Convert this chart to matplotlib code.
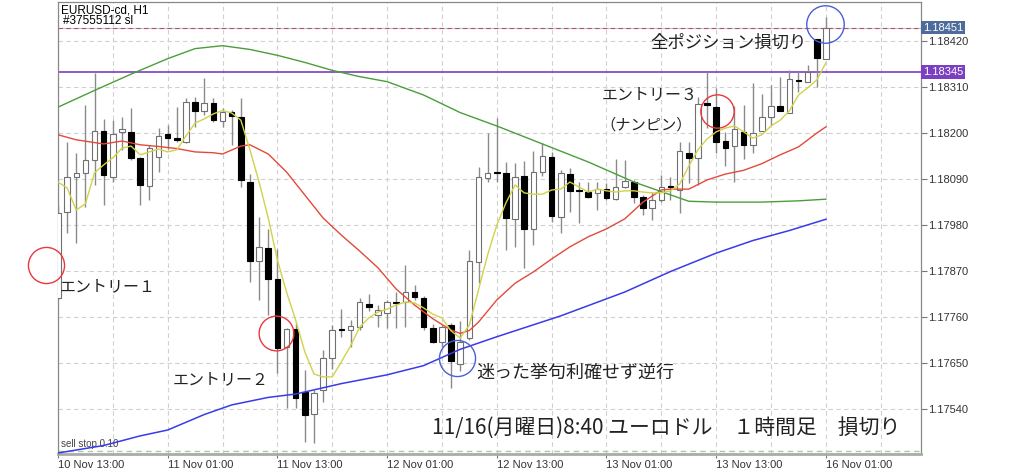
import matplotlib
matplotlib.use("Agg")
import matplotlib.pyplot as plt
import numpy as np

plt.rcParams['font.family'] = ['Liberation Sans', 'DejaVu Sans']

## EURUSD H1 candles, 10 Nov 13:00 .. 16 Nov 01:00
opens = [1.17805, 1.18011, 1.18095, 1.18103, 1.18135, 1.18204, 1.18095, 1.18201, 1.18202, 1.18139,
         1.18073, 1.18143, 1.18197, 1.18188, 1.18178, 1.18274, 1.18253, 1.18272, 1.18229, 1.18249,
         1.18237, 1.18083, 1.17892, 1.17924, 1.17850, 1.17688, 1.17730, 1.17581, 1.17527, 1.17585,
         1.17661, 1.17730, 1.17728, 1.17735, 1.17790, 1.17764, 1.17770, 1.17794, 1.17794, 1.17818,
         1.17804, 1.17734, 1.17700, 1.17740, 1.17647, 1.17708, 1.17891, 1.18091, 1.18104, 1.18103,
         1.17994, 1.18097, 1.17969, 1.18107, 1.18141, 1.17999, 1.18101, 1.18061, 1.18059, 1.18055,
         1.18065, 1.18041, 1.18071, 1.18083, 1.18047, 1.18019, 1.18039, 1.18071, 1.18063, 1.18152,
         1.18139, 1.18269, 1.18262, 1.18181, 1.18167, 1.18202, 1.18171, 1.18205, 1.18238, 1.18264,
         1.18248, 1.18324, 1.18322, 1.18423, 1.18376]
highs = [1.18027, 1.18178, 1.18151, 1.18266, 1.18342, 1.18232, 1.18230, 1.18238, 1.18258, 1.18142,
         1.18171, 1.18211, 1.18218, 1.18262, 1.18282, 1.18286, 1.18330, 1.18282, 1.18258, 1.18254,
         1.18282, 1.18101, 1.17999, 1.17969, 1.17921, 1.17733, 1.17744, 1.17633, 1.17585, 1.17680,
         1.17740, 1.17778, 1.17752, 1.17804, 1.17814, 1.17788, 1.17800, 1.17819, 1.17884, 1.17836,
         1.17810, 1.17743, 1.17740, 1.17744, 1.17750, 1.17920, 1.18119, 1.18200, 1.18234, 1.18131,
         1.18128, 1.18133, 1.18157, 1.18176, 1.18154, 1.18111, 1.18115, 1.18083, 1.18082, 1.18083,
         1.18079, 1.18136, 1.18135, 1.18087, 1.18051, 1.18057, 1.18099, 1.18095, 1.18178, 1.18178,
         1.18285, 1.18346, 1.18306, 1.18202, 1.18264, 1.18266, 1.18318, 1.18293, 1.18314, 1.18332,
         1.18350, 1.18348, 1.18362, 1.18423, 1.18477]
lows = [1.17800, 1.17960, 1.17936, 1.18023, 1.18075, 1.18027, 1.18083, 1.18159, 1.18135, 1.18027,
        1.18039, 1.18107, 1.18160, 1.18178, 1.18175, 1.18214, 1.18242, 1.18226, 1.18214, 1.18171,
        1.18071, 1.17844, 1.17800, 1.17764, 1.17625, 1.17541, 1.17541, 1.17461, 1.17457, 1.17557,
        1.17635, 1.17711, 1.17688, 1.17728, 1.17774, 1.17736, 1.17732, 1.17733, 1.17735, 1.17800,
        1.17728, 1.17697, 1.17688, 1.17589, 1.17629, 1.17704, 1.17841, 1.18083, 1.18083, 1.17920,
        1.17927, 1.17876, 1.17932, 1.18097, 1.17987, 1.17960, 1.18011, 1.17983, 1.18044, 1.18014,
        1.18039, 1.18039, 1.18067, 1.18031, 1.18003, 1.17991, 1.18034, 1.18039, 1.18007, 1.18079,
        1.18075, 1.18211, 1.18151, 1.18120, 1.18083, 1.18136, 1.18151, 1.18204, 1.18218, 1.18252,
        1.18247, 1.18298, 1.18321, 1.18309, 1.18376]
closes = [1.18008, 1.18095, 1.18104, 1.18135, 1.18204, 1.18099, 1.18197, 1.18208, 1.18139, 1.18075,
          1.18163, 1.18192, 1.18187, 1.18183, 1.18273, 1.18252, 1.18270, 1.18230, 1.18250, 1.18241,
          1.18087, 1.17892, 1.17927, 1.17850, 1.17684, 1.17730, 1.17565, 1.17525, 1.17577, 1.17661,
          1.17728, 1.17727, 1.17738, 1.17796, 1.17783, 1.17776, 1.17794, 1.17792, 1.17818, 1.17807,
          1.17735, 1.17700, 1.17736, 1.17653, 1.17700, 1.17892, 1.18093, 1.18104, 1.18103, 1.17995,
          1.18093, 1.17969, 1.18107, 1.18144, 1.18001, 1.18103, 1.18061, 1.18060, 1.18046, 1.18066,
          1.18043, 1.18069, 1.18085, 1.18047, 1.18019, 1.18039, 1.18069, 1.18069, 1.18155, 1.18139,
          1.18269, 1.18267, 1.18178, 1.18163, 1.18208, 1.18171, 1.18200, 1.18237, 1.18264, 1.18253,
          1.18328, 1.18323, 1.18346, 1.18378, 1.18451]

## moving averages (bar index, price)
ma_yellow = [1.18082, 1.18068, 1.18015, 1.18030, 1.18104, 1.18123, 1.18140, 1.18163, 1.18168, 1.18147,
             1.18154, 1.18161, 1.18154, 1.18159, 1.18192, 1.18223, 1.18233, 1.18245, 1.18253, 1.18247,
             1.18230, 1.18159, 1.18082, 1.17996, 1.17896, 1.17819, 1.17752, 1.17676, 1.17623, 1.17616,
             1.17616, 1.17652, 1.17690, 1.17735, 1.17757, 1.17771, 1.17778, 1.17788, 1.17795, 1.17793,
             1.17781, 1.17766, 1.17757, 1.17726, 1.17709, 1.17740, 1.17824, 1.17908, 1.17979, 1.18032,
             1.18075, 1.18056, 1.18053, 1.18053, 1.18063, 1.18065, 1.18082, 1.18070, 1.18058, 1.18065,
             1.18061, 1.18058, 1.18061, 1.18061, 1.18058, 1.18056, 1.18056, 1.18061, 1.18077, 1.18120,
             1.18159, 1.18185, 1.18202, 1.18211, 1.18216, 1.18202, 1.18187, 1.18195, 1.18216, 1.18230,
             1.18252, 1.18290, 1.18307, 1.18326, 1.18367]
red_idx = [0, 2, 5, 7, 9, 11, 13, 15, 17, 18, 20, 21, 23, 25, 27, 29, 31, 33, 35, 37, 39, 41, 43,
           44, 45, 46, 48, 50, 52, 54, 56, 58, 60, 62, 64, 66, 67, 69, 71, 73, 75, 77, 79, 81, 83, 84]
red_val = [1.18195, 1.18183, 1.18173, 1.18180, 1.18171, 1.18167, 1.18162, 1.18154, 1.18152, 1.18149,
           1.18168, 1.18171, 1.18149, 1.18106, 1.18051, 1.17996, 1.17955, 1.17917, 1.17877, 1.17826,
           1.17788, 1.17755, 1.17728, 1.17720, 1.17727, 1.17747, 1.17800, 1.17840, 1.17867, 1.17898,
           1.17927, 1.17951, 1.17970, 1.17994, 1.18034, 1.18063, 1.18065, 1.18065, 1.18087, 1.18101,
           1.18110, 1.18126, 1.18147, 1.18166, 1.18199, 1.18214]
green_idx = [0, 4, 8, 12, 15, 18, 21, 24, 27, 30, 33, 36, 40, 44, 48, 53, 58, 63, 66, 69, 72, 77, 81, 84]
green_val = [1.18261, 1.18301, 1.18340, 1.18377, 1.18401, 1.18408, 1.18399, 1.18385, 1.18368, 1.18349,
             1.18334, 1.18322, 1.18290, 1.18248, 1.18216, 1.18173, 1.18130, 1.18082, 1.18059, 1.18036,
             1.18034, 1.18034, 1.18037, 1.18041]
blue_idx = [0, 5, 9, 12, 16, 19, 23, 26, 31, 36, 40, 44, 48, 55, 62, 67, 72, 76, 80, 84]
blue_val = [1.17434, 1.17452, 1.17475, 1.17489, 1.17526, 1.17549, 1.17567, 1.17575, 1.17600, 1.17621,
            1.17643, 1.17682, 1.17712, 1.17762, 1.17819, 1.17868, 1.17912, 1.17942, 1.17966, 1.17993]

x_labels = ["10 Nov 13:00", "11 Nov 01:00", "11 Nov 13:00", "12 Nov 01:00",
            "12 Nov 13:00", "13 Nov 01:00", "13 Nov 13:00", "16 Nov 01:00"]
y_ticks = [1.17540, 1.17650, 1.17760, 1.17870, 1.17980, 1.18090, 1.18200, 1.18310, 1.18420]

bid_price = 1.18451
hline_price = 1.18345
sell_stop = 1.174396

fig = plt.figure(figsize=(10.24, 4.73), dpi=100)
ax = fig.add_axes([0.0566, 0.0402, 0.8428, 0.9556])

n = len(opens)
xs = np.arange(n)
o = np.array(opens); h = np.array(highs); l = np.array(lows); c = np.array(closes)

# grid
for gx in range(0, 95, 6):
	ax.axvline(gx, color='#d0d0d0', lw=0.8, ls=(0, (4, 3)), zorder=0)
for gy in y_ticks:
	ax.axhline(gy, color='#d0d0d0', lw=0.8, ls=(0, (4, 3)), zorder=0)

# candles
ax.vlines(xs, l, h, color='#8a8a8a', lw=1.0, zorder=2)
up = c >= o
body_lo = np.minimum(o, c)
body_h = np.maximum(np.abs(c - o), 0.00004)
ax.bar(xs[up], body_h[up], bottom=body_lo[up], width=0.6, color='white',
       edgecolor='#707070', linewidth=0.8, zorder=3)
ax.bar(xs[~up], body_h[~up], bottom=body_lo[~up], width=0.6, color='black',
       edgecolor='black', linewidth=0.8, zorder=3)

# moving averages
ax.plot(red_idx, red_val, color='#e24a3b', lw=1.0, zorder=4)
ax.plot(green_idx, green_val, color='#4a9e3a', lw=1.0, zorder=4)
ax.plot(blue_idx, blue_val, color='#3a3aea', lw=1.1, zorder=4)
ax.plot(xs, ma_yellow, color='#d2d24a', lw=1.0, zorder=5)

# price lines
ax.axhline(bid_price, color='#b9c7de', lw=0.8, zorder=1)
ax.axhline(bid_price, color='#c0504d', lw=0.8, ls=(0, (4, 3)), zorder=1)
ax.axhline(hline_price, color='#7a3fc0', lw=1.2, zorder=1)
ax.axhline(sell_stop, color='#9fd09f', lw=1.0, ls=(0, (4, 3)), zorder=1)

ax.set_xlim(0, 94.4)
ax.set_ylim(1.174317, 1.185125)

ax.yaxis.tick_right()
ax.set_yticks(y_ticks)
ax.set_yticklabels(["%.5f" % v for v in y_ticks], fontsize=8, color='#333333')
ax.set_xticks(range(0, 85, 12))
ax.set_xticklabels(x_labels, fontsize=8, color='#333333', ha='left')
ax.tick_params(axis='y', length=4, width=0.8, color='#777777', pad=1)
ax.tick_params(axis='x', length=3, width=0.8, color='#777777', pad=1)
for s in ['left', 'right', 'top']:
	ax.spines[s].set_color('#888888')
	ax.spines[s].set_linewidth(0.9)
ax.spines['bottom'].set_color('#aaaaaa')
ax.spines['bottom'].set_linewidth(2.0)

# price labels on the right axis
ax.text(94.6, bid_price, "1.18451", fontsize=8, color='white', ha='left', va='center',
        bbox=dict(boxstyle='square,pad=0.15', fc='#4d6c9c', ec='none'), clip_on=False)
ax.text(94.6, hline_price, "1.18345", fontsize=8, color='white', ha='left', va='center',
        bbox=dict(boxstyle='square,pad=0.15', fc='#7b3fc2', ec='none'), clip_on=False)

ax.text(0.003, 0.982, "EURUSD-cd, H1", transform=ax.transAxes, fontsize=8.5, va='center')
ax.text(0.006, 0.958, "#37555112 sl", transform=ax.transAxes, fontsize=8.5, va='center')
ax.text(0.3, 1.17456, "sell stop 0.10", fontsize=7, color='#444444', va='center')

# annotations
jp = ['Noto Sans CJK JP', 'DejaVu Sans']
ax.text(0.2, 1.17831, "エントリー１", family=jp, fontsize=11.5, va='center', ha='left', color='#222222')
ax.text(12.6, 1.17609, "エントリー２", family=jp, fontsize=11.5, va='center', ha='left', color='#222222')
ax.text(45.8, 1.17626, "迷った挙句利確せず逆行", family=jp, fontsize=13, va='center', ha='left', color='#222222')
ax.text(59.5, 1.18290, "エントリー３", family=jp, fontsize=11.5, va='center', ha='left', color='#222222')
ax.text(64.3, 1.18218, "（ナンピン）", family=jp, fontsize=11, va='center', ha='center', color='#222222')
ax.text(64.8, 1.18415, "全ポジション損切り", family=jp, fontsize=12.5, va='center', ha='left', color='#222222')
ax.text(40.9, 1.17494, "11/16(月曜日)8:40 ユーロドル　１時間足　損切り", family=jp, fontsize=15,
        va='center', ha='left', color='#222222')

# circles
ax.plot([-1.31], [1.17884], 'o', ms=26, mfc='none', mec='#e8383d', mew=1.0, clip_on=False, zorder=6)
ax.plot([23.8], [1.17720], 'o', ms=25, mfc='none', mec='#e8383d', mew=1.0, clip_on=False, zorder=6)
ax.plot([72.05], [1.18251], 'o', ms=24, mfc='none', mec='#e8383d', mew=1.0, clip_on=False, zorder=6)
ax.plot([43.65], [1.17662], 'o', ms=26, mfc='none', mec='#4a5fd6', mew=1.0, clip_on=False, zorder=6)
ax.plot([83.86], [1.18460], 'o', ms=27, mfc='none', mec='#4a5fd6', mew=1.0, clip_on=False, zorder=6)

plt.savefig("out.png", dpi=100)
